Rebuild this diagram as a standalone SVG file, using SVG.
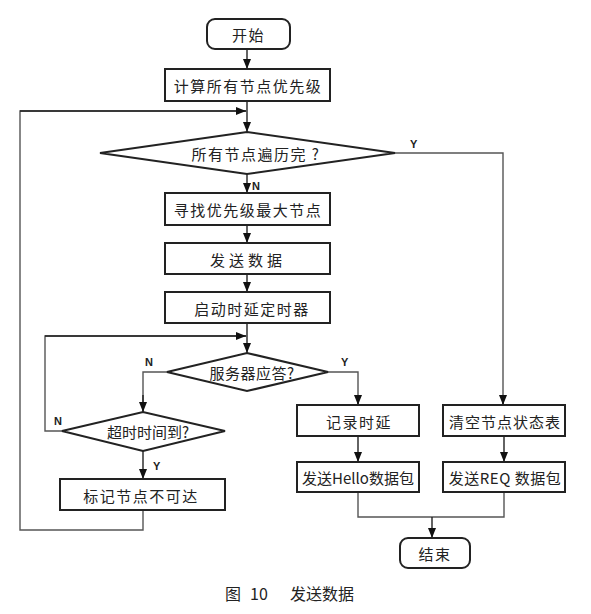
<svg xmlns="http://www.w3.org/2000/svg" width="591" height="614" viewBox="0 0 591 614">
<defs>
<marker id="arr" markerUnits="userSpaceOnUse" markerWidth="10" markerHeight="10" refX="10" refY="5" orient="auto">
<path d="M0,1 L10,5 L0,9 z" fill="#111"/>
</marker>
<style>
.box{fill:#fff;stroke:#222;stroke-width:2}
.t{font-family:"Noto Sans CJK SC","Noto Sans",sans-serif;font-size:15px;fill:#222;text-anchor:middle;dominant-baseline:central;letter-spacing:1.5px}
.c{fill:none;stroke:#555;stroke-width:1.4}
.ca{fill:none;stroke:#222;stroke-width:1.4;marker-end:url(#arr)}
.lbl{font-family:"Liberation Sans","Noto Sans",sans-serif;font-size:11px;fill:#222;font-weight:bold}
.cap{font-family:"Noto Sans CJK SC",sans-serif;font-size:16px;fill:#222}
</style>
</defs>
<rect width="591" height="614" fill="#fff"/>
<g id="connectors">
<path class="ca" d="M247,49 V69"/>
<path class="ca" d="M247,101 V132"/>
<path class="c" d="M143,510 V530 H20 V111 H247"/>
<path class="ca" d="M20,111 H246"/>
<path class="ca" d="M247,173 V193"/>
<path class="c" d="M395,153 H503 V405"/>
<path class="ca" d="M503,395 V405"/>
<path class="ca" d="M247,225 V243"/>
<path class="ca" d="M247,274 V292"/>
<path class="ca" d="M247,323 V353"/>
<path class="c" d="M62,431 H45 V336 H247"/>
<path class="ca" d="M45,336 H246"/>
<path class="c" d="M167,372 H143 V412"/>
<path class="ca" d="M143,395 V412"/>
<path class="c" d="M328,372 H358 V405"/>
<path class="ca" d="M358,395 V405"/>
<path class="ca" d="M143,451 V479"/>
<path class="ca" d="M358,436 V462"/>
<path class="ca" d="M504,436 V462"/>
<path class="c" d="M358,492 V517 H504 V492"/>
<path class="ca" d="M432,517 V538"/>
<text class="lbl" x="252" y="190">N</text>
<text class="lbl" x="410" y="148">Y</text>
<text class="lbl" x="145" y="366">N</text>
<text class="lbl" x="341" y="366">Y</text>
<text class="lbl" x="54" y="425">N</text>
<text class="lbl" x="153" y="470">Y</text>
</g>
<g id="start"><rect class="box" x="207" y="19" width="83" height="30" rx="8"/><text class="t" x="248.5" y="34">开始</text></g>
<g id="calc"><rect class="box" x="165" y="69" width="165" height="32"/><text class="t" x="248" y="85">计算所有节点优先级</text></g>
<g id="allDone"><polygon class="box" points="100,153 247,132 395,153 247,174"/><text class="t" x="256" y="153">所有节点遍历完 ?</text></g>
<g id="findMax"><rect class="box" x="165" y="193" width="165" height="32"/><text class="t" x="248" y="209">寻找优先级最大节点</text></g>
<g id="sendData"><rect class="box" x="165" y="243" width="165" height="31"/><text class="t" x="248" y="259" style="letter-spacing:4px">发送数据</text></g>
<g id="startTimer"><rect class="box" x="165" y="292" width="165" height="31"/><text class="t" x="252" y="308">启动时延定时器</text></g>
<g id="serverReply"><polygon class="box" points="167,372 247,353 328,372 247,391"/><text class="t" x="252" y="372" style="letter-spacing:0.5px">服务器应答?</text></g>
<g id="timeout"><polygon class="box" points="62,431 143,412 225,431 143,451"/><text class="t" x="148" y="431" style="letter-spacing:0px">超时时间到?</text></g>
<g id="markUnreach"><rect class="box" x="60" y="479" width="165" height="31"/><text class="t" x="141" y="495">标记节点不可达</text></g>
<g id="recordDelay"><rect class="box" x="297" y="405" width="122" height="31"/><text class="t" x="359" y="421">记录时延</text></g>
<g id="sendHello"><rect class="box" x="297" y="462" width="122" height="30"/><text class="t" x="358" y="477" style="letter-spacing:0px">发送Hello数据包</text></g>
<g id="clearTable"><rect class="box" x="443" y="405" width="122" height="31"/><text class="t" x="505" y="421" style="letter-spacing:1px">清空节点状态表</text></g>
<g id="sendReq"><rect class="box" x="443" y="462" width="122" height="30"/><text class="t" x="505" y="477" style="letter-spacing:0.5px">发送REQ 数据包</text></g>
<g id="end"><rect class="box" x="400" y="538" width="70" height="30" rx="8"/><text class="t" x="435" y="553">结束</text></g>
<text class="cap" x="225" y="600">图</text>
<text class="cap" x="250" y="600">10</text>
<text class="cap" x="290" y="600">发送数据</text>
</svg>
